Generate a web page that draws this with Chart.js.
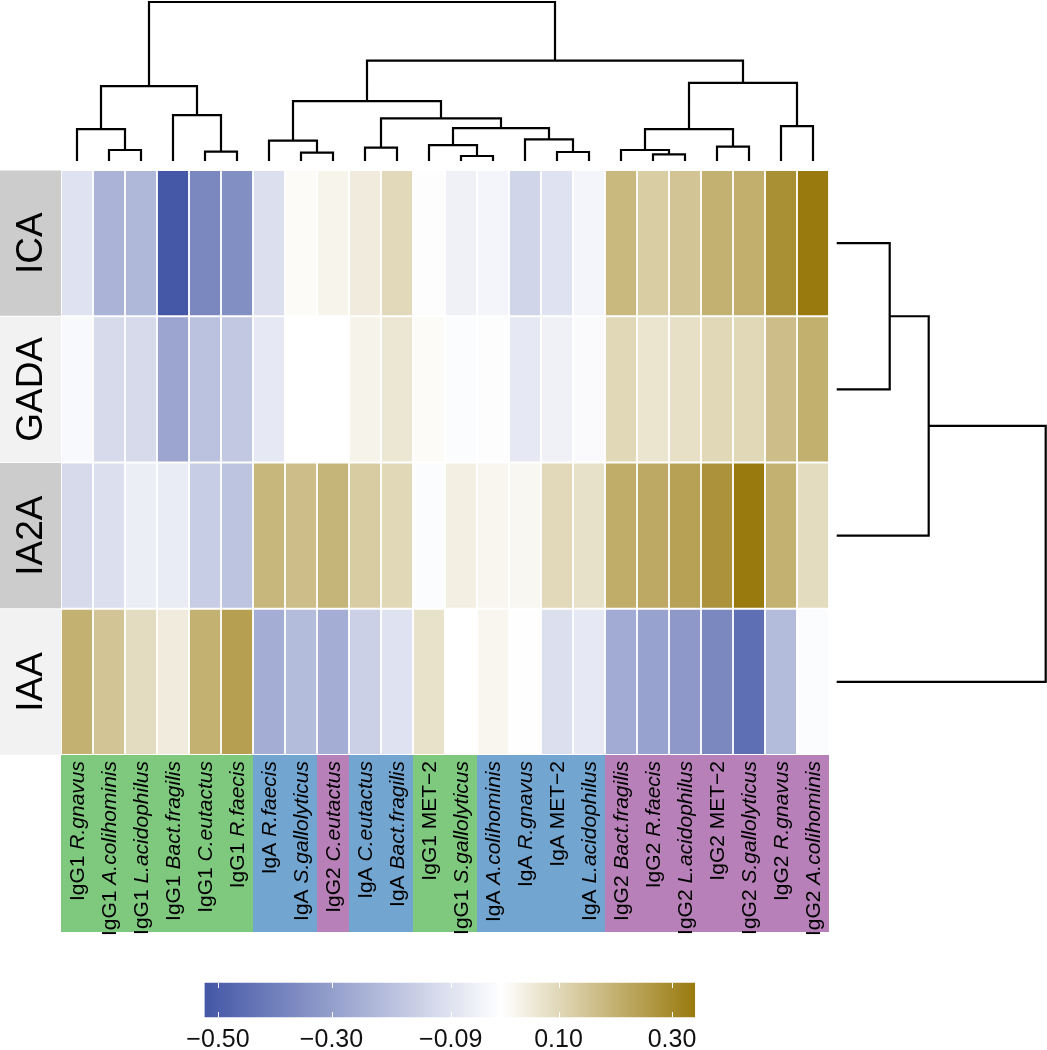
<!DOCTYPE html>
<html>
<head>
<meta charset="utf-8">
<script src="https://cdn.jsdelivr.net/npm/chart.js@4.4.1/dist/chart.umd.min.js"></script>
<style>
  html, body { margin: 0; padding: 0; background: #fff; }
  canvas { display: block; }
</style>
</head>
<body>
<canvas id="heat" width="1047" height="1050"></canvas>
<script>
// columns in dendrogram order
var isotypes = ['IgG1', 'IgG1', 'IgG1', 'IgG1', 'IgG1', 'IgG1', 'IgA', 'IgA', 'IgG2', 'IgA', 'IgA', 'IgG1',
                'IgG1', 'IgA', 'IgA', 'IgA', 'IgA', 'IgG2', 'IgG2', 'IgG2', 'IgG2', 'IgG2', 'IgG2', 'IgG2'];
var antigens = ['R.gnavus', 'A.colihominis', 'L.acidophilus', 'Bact.fragilis', 'C.eutactus', 'R.faecis',
                'R.faecis', 'S.gallolyticus', 'C.eutactus', 'C.eutactus', 'Bact.fragilis', 'MET−2',
                'S.gallolyticus', 'A.colihominis', 'R.gnavus', 'MET−2', 'L.acidophilus', 'Bact.fragilis',
                'R.faecis', 'L.acidophilus', 'MET−2', 'S.gallolyticus', 'R.gnavus', 'A.colihominis'];
var rowNames = ['ICA', 'GADA', 'IA2A', 'IAA'];

// correlation values, one array per row
var ica  = [-0.09, -0.235, -0.22, -0.52, -0.37, -0.35, -0.10, 0.01, 0.027, 0.05, 0.096, -0.005,
            -0.045, -0.03, -0.13, -0.09, -0.03, 0.18, 0.128, 0.15, 0.20, 0.205, 0.285, 0.34];
var gada = [-0.02, -0.115, -0.115, -0.28, -0.19, -0.17, -0.07, 0.0, 0.0, 0.03, 0.062, 0.01,
            -0.01, -0.005, -0.07, -0.045, -0.015, 0.10, 0.068, 0.08, 0.10, 0.10, 0.168, 0.203];
var ia2a = [-0.115, -0.10, -0.053, -0.06, -0.157, -0.185, 0.185, 0.168, 0.19, 0.13, 0.10, -0.01,
            0.04, 0.024, 0.02, 0.097, 0.076, 0.21, 0.22, 0.24, 0.276, 0.34, 0.20, 0.09];
var iaa  = [0.20, 0.15, 0.089, 0.05, 0.20, 0.245, -0.255, -0.21, -0.255, -0.145, -0.09, 0.073,
            0.0, 0.024, 0.002, -0.10, -0.07, -0.26, -0.288, -0.316, -0.37, -0.447, -0.21, -0.01];

var colorRange = [-0.523, 0.34];
var legendTicks = [-0.50, -0.30, -0.09, 0.10, 0.30];
var legendLabels = ['−0.50', '−0.30', '−0.09', '0.10', '0.30'];

// hclust style merges: negative = leaf (1-based), positive = earlier merge (1-based)
var colMerges = [[-2, -3], [-1, 1], [-5, -6], [-4, 3], [2, 4], [-8, -9], [-7, 6], [-10, -11],
                 [-13, -14], [-12, 9], [-16, -17], [-15, 11], [10, 12], [8, 13], [7, 14],
                 [-19, -20], [-18, 16], [-21, -22], [17, 18], [-23, -24], [19, 20], [15, 21], [5, 22]];
var colHeights = [0.33, 0.96, 0.28, 1.38, 2.25, 0.25, 0.61, 0.40, 0.15, 0.48, 0.27, 0.65, 0.99,
                  1.28, 1.80, 0.20, 0.33, 0.43, 0.96, 1.05, 2.35, 3.02, 4.78];
var rowMerges = [[-1, -2], [1, -3], [2, -4]];
var rowHeights = [0.53, 0.92, 2.09];

var W = 1047, H = 1050;
var fontFamily = '"Liberation Sans", Arial, Helvetica, sans-serif';
var isoColors = { IgG1: '#7fc97f', IgA: '#72a5cf', IgG2: '#b880b8' };
var rowShade = ['#cccccc', '#f2f2f2', '#cccccc', '#f2f2f2'];
var lowColor = [68, 87, 166], highColor = [153, 122, 14];

function cellColor(v) {
    var c = v < 0 ? lowColor : highColor;
    var t = Math.min(1, v < 0 ? v / colorRange[0] : v / colorRange[1]);
    return 'rgb(' + c.map(function(k) { return Math.round(255 + (k - 255) * t); }).join(',') + ')';
}

// value a sits at pixel pa, value b at pixel pb
function hFit(a, pa, b, pb, size) {
    var k = (b - a) / (pb - pa);
    return { min: a - pa * k, max: a + (size - pa) * k };
}
function vFit(a, pa, b, pb, size) {
    var k = (b - a) / (pa - pb);
    var max = a + pa * k;
    return { min: max - size * k, max: max };
}
function axis(range, extra) {
    var o = {
        type: 'linear', display: false, bounds: 'data', offset: false,
        min: range.min, max: range.max,
        afterBuildTicks: function(s) { s.ticks = []; }
    };
    return Object.assign(o, extra || {});
}

function dendroPoints(merges, heights, leafPos) {
    var nodes = [], pts = [];
    function node(ref) {
        return ref < 0 ? { pos: leafPos(-ref - 1), h: 0 } : nodes[ref - 1];
    }
    merges.forEach(function(m, i) {
        var a = node(m[0]), b = node(m[1]), h = heights[i];
        pts.push([a.pos, a.h], [a.pos, h], [b.pos, h], [b.pos, b.h], null);
        nodes.push({ pos: (a.pos + b.pos) / 2, h: h });
    });
    return pts;
}

var rows = [ica, gada, ia2a, iaa];
var datasets = rows.map(function(vals, r) {
    return {
        type: 'bar', label: rowNames[r], xAxisID: 'x', yAxisID: 'y',
        grouped: false, barPercentage: 1, categoryPercentage: 1,
        data: vals.map(function(v, i) { return { x: i, y: [r, r + 1] }; }),
        backgroundColor: vals.map(cellColor),
        borderColor: '#ffffff', borderWidth: 1.25, borderSkipped: false
    };
});

var lineStyle = {
    type: 'line', borderColor: '#000000', borderWidth: 2.2, pointRadius: 0, pointHoverRadius: 0,
    fill: false, tension: 0, spanGaps: false, borderJoinStyle: 'miter', borderCapStyle: 'butt'
};
datasets.push(Object.assign({}, lineStyle, {
    label: 'columns', xAxisID: 'x', yAxisID: 'yd',
    data: dendroPoints(colMerges, colHeights, function(i) { return i; }).map(function(p) {
        return p ? { x: p[0], y: p[1] } : { x: null, y: null };
    })
}));
datasets.push(Object.assign({}, lineStyle, {
    label: 'rows', xAxisID: 'xd', yAxisID: 'y',
    data: dendroPoints(rowMerges, rowHeights, function(r) { return r + 0.5; }).map(function(p) {
        return p ? { x: p[1], y: p[0] } : { x: null, y: null };
    })
}));
var cbIndex = datasets.length;
datasets.push({
    type: 'bar', label: 'key', indexAxis: 'y', xAxisID: 'xc', yAxisID: 'yc',
    data: [{ y: 0, x: colorRange }],
    grouped: false, barThickness: 34, borderWidth: 0, borderSkipped: false,
    backgroundColor: function(c) {
        var s = c.chart.scales.xc;
        if (!s) return '#ffffff';
        var x0 = s.getPixelForValue(colorRange[0]), x1 = s.getPixelForValue(colorRange[1]);
        if (!isFinite(x0) || !isFinite(x1)) return '#ffffff';
        var g = c.chart.ctx.createLinearGradient(x0, 0, x1, 0);
        g.addColorStop(0, cellColor(colorRange[0]));
        g.addColorStop(-colorRange[0] / (colorRange[1] - colorRange[0]), '#ffffff');
        g.addColorStop(1, cellColor(colorRange[1]));
        return g;
    }
});

var decor = {
    id: 'decor',
    afterDatasetsDraw: function(chart) {
        var ctx = chart.ctx, sx = chart.scales.x, sy = chart.scales.y, sc = chart.scales.xc;
        var left = sx.getPixelForValue(-0.5);
        var bottom = sy.getPixelForValue(rowNames.length);
        ctx.save();

        // row labels
        rowNames.forEach(function(name, r) {
            var y0 = sy.getPixelForValue(r), y1 = sy.getPixelForValue(r + 1);
            ctx.fillStyle = rowShade[r];
            ctx.fillRect(0, y0 + 0.5, left, y1 - y0 - 1);
            ctx.save();
            ctx.translate(left - 19.5, (y0 + y1) / 2);
            ctx.rotate(-Math.PI / 2);
            ctx.fillStyle = '#000000';
            ctx.font = '37px ' + fontFamily;
            ctx.textAlign = 'center';
            ctx.textBaseline = 'alphabetic';
            ctx.fillText(name, 0, 0);
            ctx.restore();
        });

        // column annotation band
        antigens.forEach(function(a, i) {
            var x0 = sx.getPixelForValue(i - 0.5), x1 = sx.getPixelForValue(i + 0.5);
            ctx.fillStyle = isoColors[isotypes[i]];
            ctx.fillRect(x0, bottom, x1 - x0, 177);
        });
        antigens.forEach(function(a, i) {
            var xc = sx.getPixelForValue(i);
            var plain = '21px ' + fontFamily;
            var species = (a === 'MET−2' ? '' : 'italic ') + '21px ' + fontFamily;
            var p1 = isotypes[i] + ' ';
            ctx.save();
            ctx.translate(xc + 7, bottom + 6);
            ctx.rotate(-Math.PI / 2);
            ctx.fillStyle = '#000000';
            ctx.textAlign = 'left';
            ctx.textBaseline = 'alphabetic';
            ctx.font = plain;
            var w1 = ctx.measureText(p1).width;
            ctx.font = species;
            var w2 = ctx.measureText(a).width;
            ctx.font = plain;
            ctx.fillText(p1, -(w1 + w2), 0);
            ctx.font = species;
            ctx.fillText(a, -w2, 0);
            ctx.restore();
        });

        // colour key ticks and labels
        var bar = chart.getDatasetMeta(cbIndex).data[0];
        var top = bar.y - bar.height / 2, bot = bar.y + bar.height / 2;
        ctx.strokeStyle = '#ffffff';
        ctx.lineWidth = 1;
        ctx.fillStyle = '#111111';
        ctx.font = '25px ' + fontFamily;
        ctx.textAlign = 'center';
        ctx.textBaseline = 'alphabetic';
        legendTicks.forEach(function(t, i) {
            var px = Math.round(sc.getPixelForValue(t)) + 0.5;
            ctx.beginPath();
            ctx.moveTo(px, top); ctx.lineTo(px, top + 5);
            ctx.moveTo(px, bot); ctx.lineTo(px, bot - 5);
            ctx.stroke();
            ctx.fillText(legendLabels[i], sc.getPixelForValue(t), bot + 30);
        });
        ctx.restore();
    }
};

new Chart(document.getElementById('heat'), {
    type: 'bar',
    data: { datasets: datasets },
    options: {
        responsive: false,
        devicePixelRatio: 1,
        animation: false,
        events: [],
        layout: { padding: 0 },
        plugins: { legend: { display: false }, tooltip: { enabled: false } },
        scales: {
            x: axis(hFit(-0.5, 61, 23.5, 829, W)),
            y: axis(hFit(0, 170, 4, 755, H), { reverse: true }),
            yd: axis(vFit(0, 161, 4.78, 2, H)),
            xd: axis(hFit(0, 836.7, 2.09, 1045.7, W)),
            xc: axis(hFit(-0.5, 218, 0.3, 672, W)),
            yc: axis(vFit(0, 1000, 1, 966, H))
        }
    },
    plugins: [decor]
});
</script>
</body>
</html>
